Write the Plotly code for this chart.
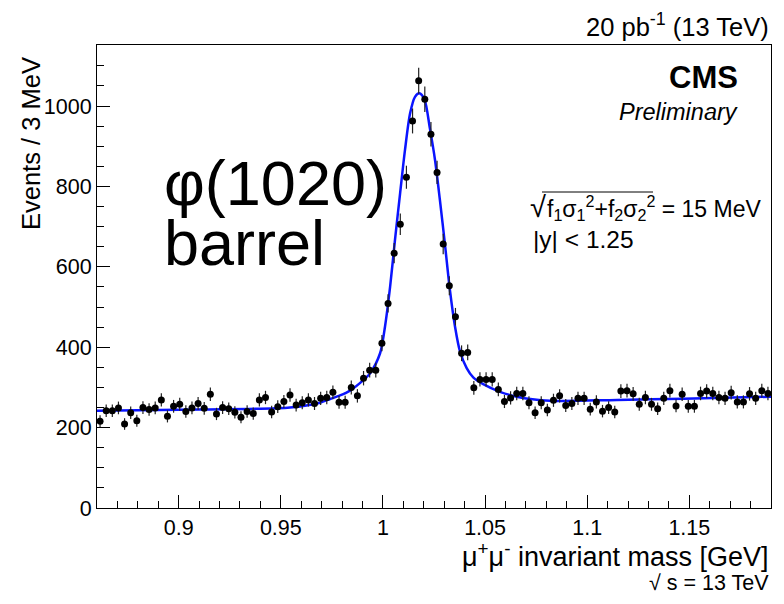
import numpy as np
import plotly.graph_objects as go

# ---- data ----
mass_lo = 0.86          # GeV, lower edge of first bin
bin_width = 0.003       # GeV (3 MeV)
counts = [216, 242, 242, 249, 209, 237, 217, 250, 245, 249,
          269, 228, 253, 258, 240, 249, 260, 248, 283, 234,
          250, 247, 238, 226, 240, 235, 269, 275, 239, 252,
          265, 281, 256, 262, 269, 260, 273, 275, 288, 263,
          263, 300, 279, 323, 343, 343, 410, 509, 634, 706,
          823, 963, 1063, 1017, 930, 835, 657, 553, 476, 385,
          387, 299, 320, 320, 320, 295, 265, 274, 285, 285,
          262, 237, 262, 244, 268, 279, 255, 260, 273, 273,
          246, 264, 241, 250, 239, 291, 292, 284, 258, 275,
          258, 247, 273, 292, 254, 283, 253, 253, 285, 291,
          285, 275, 273, 287, 264, 264, 284, 273, 292, 285]

fit_mass = [0.860, 0.9104, 0.9545, 0.9692, 0.9741, 0.9790, 0.9839, 0.9904, 0.9937,
            0.9986, 1.0010, 1.0035, 1.0059, 1.0084, 1.0108, 1.0133, 1.0157, 1.0178,
            1.0203, 1.0230, 1.0255, 1.0279, 1.0304, 1.0328, 1.0353, 1.0377, 1.0410,
            1.0442, 1.0491, 1.0573, 1.0655, 1.0818, 1.1145, 1.1471, 1.19]
fit_vals = [242, 245, 250, 262, 271, 280, 292, 318, 335,
            385, 451, 550, 667, 783, 891, 982, 1023, 1032,
            1017, 944, 866, 766, 654, 542, 451, 390, 348,
            325, 308, 289, 277, 267, 269, 272, 277]

x_ticks = [0.9, 0.95, 1.0, 1.05, 1.1, 1.15]
x_tick_text = ["0.9", "0.95", "1", "1.05", "1.1", "1.15"]
y_ticks = [0, 200, 400, 600, 800, 1000]

centers = mass_lo + bin_width * (np.arange(len(counts)) + 0.5)
errs = np.sqrt(np.array(counts, dtype=float))

FONT = "Liberation Sans"

fig = go.Figure()
fig.add_trace(go.Scatter(
    x=fit_mass, y=fit_vals, mode="lines",
    line=dict(color="#0a14ff", width=2.5, shape="spline", smoothing=0.8),
    hoverinfo="skip", showlegend=False))
fig.add_trace(go.Scatter(
    x=centers, y=counts, mode="markers",
    marker=dict(color="black", size=7, symbol="circle"),
    error_y=dict(type="data", array=errs, visible=True, color="#222222",
                 thickness=1.2, width=0),
    showlegend=False))

axis_common = dict(
    showline=True, linecolor="black", linewidth=1, mirror=True,
    ticks="inside", tickcolor="black", tickwidth=1, ticklen=13,
    showgrid=False, zeroline=False,
    tickfont=dict(family=FONT, size=21.5, color="black"),
)
fig.update_xaxes(range=[0.86, 1.19], tickvals=x_ticks, ticktext=x_tick_text,
                 minor=dict(dtick=0.01, tick0=0.86, ticks="inside", ticklen=7,
                            tickcolor="black", tickwidth=1, showgrid=False),
                 **axis_common)
fig.update_yaxes(range=[0, 1152], tickvals=y_ticks,
                 minor=dict(dtick=50, tick0=0, ticks="inside", ticklen=7,
                            tickcolor="black", tickwidth=1, showgrid=False),
                 **axis_common)

def px2x(px):
    return (px - 97) / 674.0

def py2y(py):
    return (508 - py) / 463.0

def ann(text, px, py, size, xanchor="left", yanchor="middle", angle=0):
    fig.add_annotation(text=text, x=px2x(px), y=py2y(py), xref="paper", yref="paper",
                       xanchor=xanchor, yanchor=yanchor, showarrow=False,
                       textangle=angle,
                       font=dict(family=FONT, size=size, color="black"))

ann("20 pb<sup>-1</sup> (13 TeV)", 771, 25, 25.5, xanchor="right")
ann("<b>CMS</b>", 740, 78, 31, xanchor="right")
ann("<i>Preliminary</i>", 740, 112, 23.5, xanchor="right")
ann("φ(1020)", 162, 183, 63)
ann("barrel", 162, 243, 63)
# formula: sqrt sign, radicand with overline, result
ann("√", 528, 207, 29)
ann("f<sub>1</sub>σ<sub>1</sub><sup>2</sup>+f<sub>2</sub>σ<sub>2</sub><sup>2</sup> = 15 MeV",
    545, 208, 23)
fig.add_shape(type="line", xref="paper", yref="paper",
              x0=px2x(542), x1=px2x(653), y0=py2y(192), y1=py2y(192),
              line=dict(color="black", width=1))
ann("|y| < 1.25", 531, 239, 24.5)
ann("Events / 3 MeV", 31, 144, 25.5, xanchor="center", angle=-90)
ann("μ<sup>+</sup>μ<sup>-</sup> invariant mass [GeV]", 771, 555, 27, xanchor="right")
ann("√ s = 13 TeV", 771, 583, 21.5, xanchor="right")

fig.update_layout(
    width=784, height=604, autosize=False,
    margin=dict(l=97, r=13, t=45, b=96, pad=0),
    paper_bgcolor="white", plot_bgcolor="white",
    font=dict(family=FONT, color="black"),
)
fig.write_html("out.html")
